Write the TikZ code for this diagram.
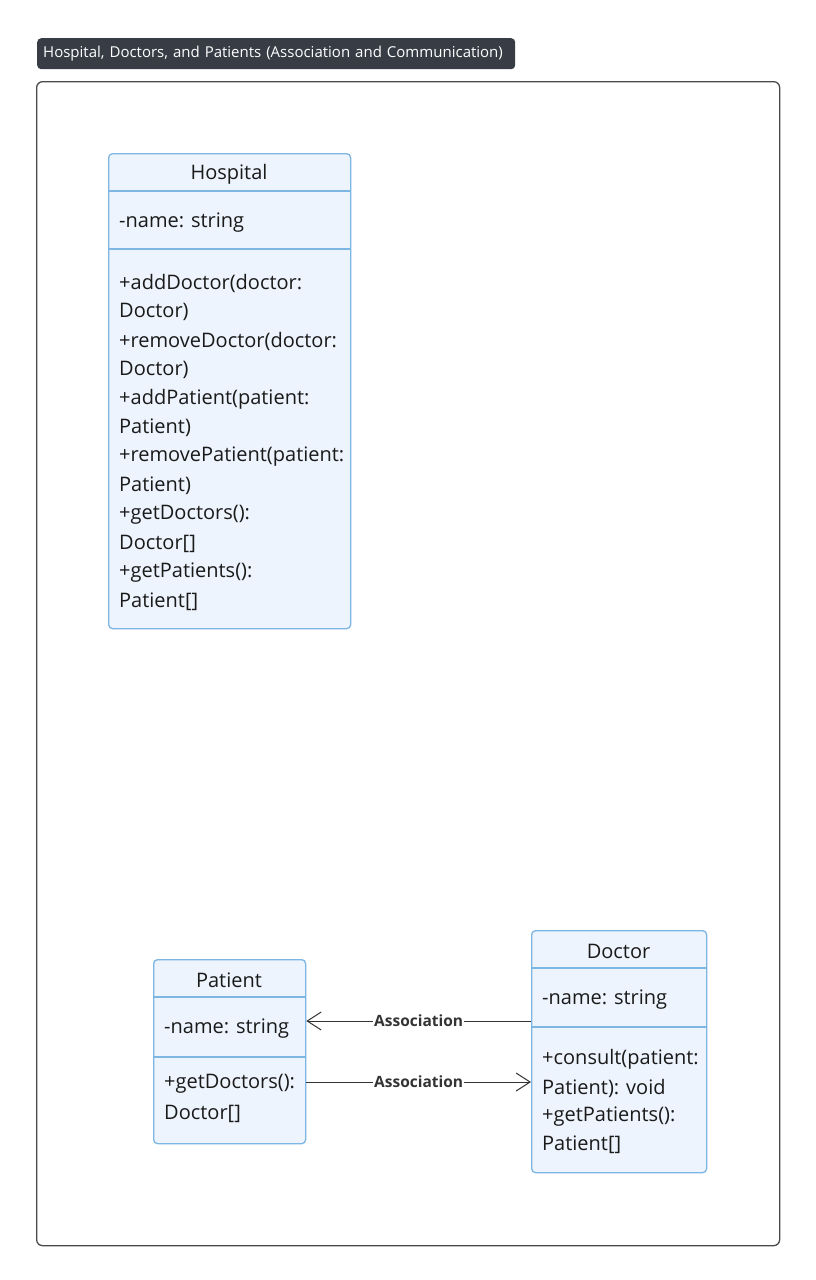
\documentclass[tikz,border=0pt]{standalone}
\usepackage{fontspec}
\setmainfont{Open Sans}
\usetikzlibrary{arrows.meta}
\definecolor{boxfill}{HTML}{EDF4FD}
\definecolor{boxline}{HTML}{7DB5E3}
\definecolor{titlebg}{HTML}{383D45}
\definecolor{frameline}{HTML}{4A4A4A}
\definecolor{edgecol}{HTML}{333333}
\definecolor{txt}{HTML}{1A1A1A}
\begin{document}
\begin{tikzpicture}[x=1pt,y=-1pt,
 classbox/.style={draw=boxline, fill=boxfill, line width=1.3pt, rounded corners=4pt, anchor=north west, inner sep=0pt},
 divider/.style={draw=boxline, line width=1.3pt},
 member/.style={anchor=west, inner sep=0pt, font=\fontsize{20}{22}\selectfont, text=txt},
 classname/.style={anchor=center, inner sep=0pt, font=\fontsize{20}{22}\selectfont, text=txt},
 edgelabel/.style={fill=white, inner sep=1pt, font=\bfseries\fontsize{15.5}{17}\selectfont, text=edgecol},
 assoc/.style={draw=edgecol, line width=1pt, -{Straight Barb[length=14pt,width=18pt]}}
]
\useasboundingbox[fill=white] (0,0) rectangle (815,1280);

% title
\node[fill=titlebg, rounded corners=4pt, text=white, anchor=north west, minimum height=31pt,
      text width=466pt, inner xsep=6pt, inner ysep=0pt, align=left,
      font=\fontsize{15}{17}\selectfont] (title) at (37,38) {Hospital, Doctors, and Patients (Association and Communication)};

% frame
\node[draw=frameline, rounded corners=6pt, line width=1.3pt, minimum width=743pt, minimum height=1164pt,
      anchor=north west, inner sep=0pt] (frame) at (36,81) {};

% Hospital
\node[classbox, minimum width=242pt, minimum height=475pt] (hospital) at (108,153) {};
\draw[divider] (108,191) -- (350,191);
\draw[divider] (108,249) -- (350,249);
\node[classname] (hname) at (229,174) {Hospital};
\node[member] (hattr) at (119,223) {-name: string};
\node[member] (hm1) at (119,283) {+addDoctor(doctor:};
\node[member] (hm2) at (119,312) {Doctor)};
\node[member] (hm3) at (119,341) {+removeDoctor(doctor:};
\node[member] (hm4) at (119,370) {Doctor)};
\node[member] (hm5) at (119,399) {+addPatient(patient:};
\node[member] (hm6) at (119,428) {Patient)};
\node[member] (hm7) at (119,457) {+removePatient(patient:};
\node[member] (hm8) at (119,486) {Patient)};
\node[member] (hm9) at (119,515) {+getDoctors():};
\node[member] (hm10) at (119,544) {Doctor[]};
\node[member] (hm11) at (119,573) {+getPatients():};
\node[member] (hm12) at (119,602) {Patient[]};

% Patient
\node[classbox, minimum width=152pt, minimum height=184pt] (patient) at (153,959) {};
\draw[divider] (153,997) -- (305,997);
\draw[divider] (153,1057) -- (305,1057);
\node[classname] (pname) at (229,980) {Patient};
\node[member] (pattr) at (164,1029) {-name: string};
\node[member] (pm1) at (164,1084) {+getDoctors():};
\node[member] (pm2) at (164,1114) {Doctor[]};

% Doctor
\node[classbox, minimum width=175pt, minimum height=242pt] (doctor) at (531,930) {};
\draw[divider] (531,968) -- (706,968);
\draw[divider] (531,1027) -- (706,1027);
\node[classname] (dname) at (618.5,951) {Doctor};
\node[member] (dattr) at (542,1000) {-name: string};
\node[member] (dm1) at (542,1059) {+consult(patient:};
\node[member] (dm2) at (542,1088) {Patient): void};
\node[member] (dm3) at (542,1117) {+getPatients():};
\node[member] (dm4) at (542,1145) {Patient[]};

% connectors
\coordinate (ya) at (0,1021);
\coordinate (yb) at (0,1082);
\draw[assoc] (doctor.west |- ya) -- (patient.east |- ya) node[midway, edgelabel] (l1) {Association};
\draw[assoc] (patient.east |- yb) -- (doctor.west |- yb) node[midway, edgelabel] (l2) {Association};
\end{tikzpicture}
\end{document}
